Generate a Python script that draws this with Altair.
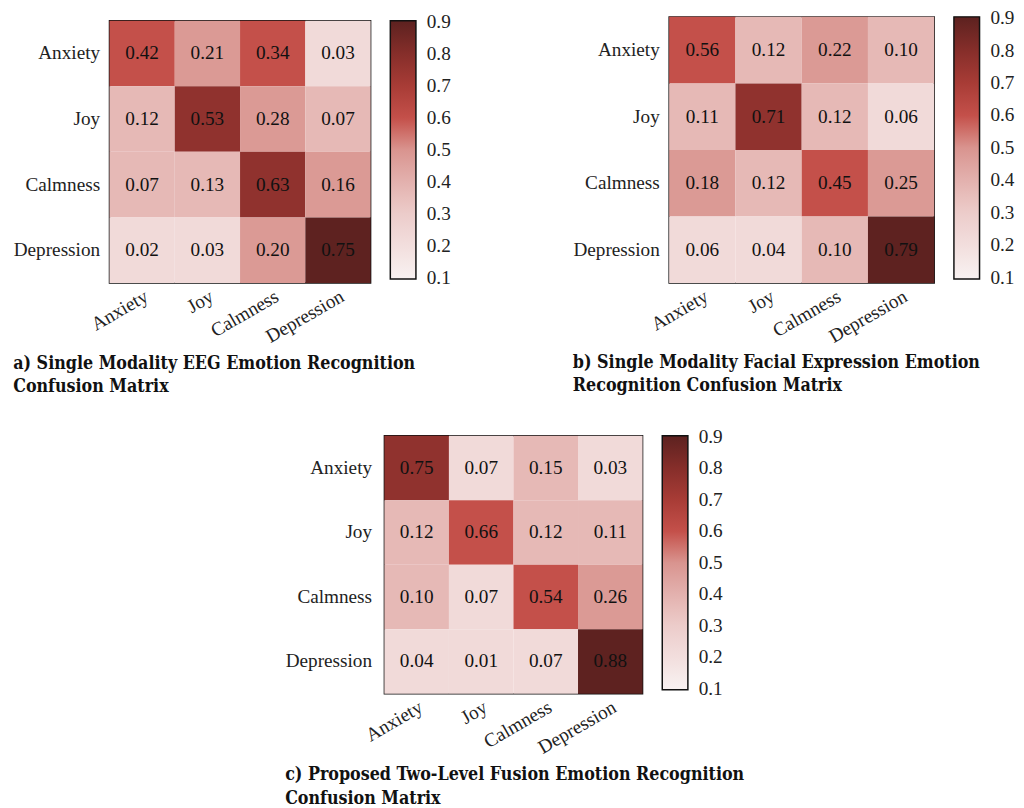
import altair as alt
import pandas as pd

labels = ["Anxiety", "Joy", "Calmness", "Depression"]

# Displayed cell values (rows = true class, columns = predicted class)
vals_a = [[0.42, 0.21, 0.34, 0.03],
          [0.12, 0.53, 0.28, 0.07],
          [0.07, 0.13, 0.63, 0.16],
          [0.02, 0.03, 0.20, 0.75]]
vals_b = [[0.56, 0.12, 0.22, 0.10],
          [0.11, 0.71, 0.12, 0.06],
          [0.18, 0.12, 0.45, 0.25],
          [0.06, 0.04, 0.10, 0.79]]
vals_c = [[0.75, 0.07, 0.15, 0.03],
          [0.12, 0.66, 0.12, 0.11],
          [0.10, 0.07, 0.54, 0.26],
          [0.04, 0.01, 0.07, 0.88]]

# Cell shading as read against the colour bar
shade_a = [[0.60, 0.48, 0.60, 0.22],
           [0.37, 0.77, 0.48, 0.37],
           [0.37, 0.37, 0.77, 0.48],
           [0.22, 0.22, 0.48, 0.90]]
shade_b = [[0.60, 0.37, 0.48, 0.37],
           [0.37, 0.77, 0.37, 0.22],
           [0.48, 0.37, 0.60, 0.48],
           [0.22, 0.22, 0.37, 0.90]]
shade_c = [[0.77, 0.22, 0.37, 0.22],
           [0.37, 0.60, 0.37, 0.37],
           [0.37, 0.22, 0.60, 0.48],
           [0.22, 0.22, 0.22, 0.90]]

cap_a = ["a) Single Modality EEG Emotion Recognition", "Confusion Matrix"]
cap_b = ["b) Single Modality Facial Expression Emotion", "Recognition Confusion Matrix"]
cap_c = ["c) Proposed Two-Level Fusion Emotion Recognition", "Confusion Matrix"]

cbar_ticks = [0.1, 0.2, 0.3, 0.4, 0.5, 0.6, 0.7, 0.8, 0.9]
cmap_dom = [0.096, 0.1, 0.2, 0.3, 0.4, 0.5, 0.6, 0.7, 0.8, 0.9, 0.904]
cmap_rng = ["#f8f1f1", "#f8f1f1", "#f2dedd", "#ecccca", "#e3b1ae", "#d9948f",
            "#c4504a", "#a83c36", "#862e2a", "#5e2220", "#5e2220"]

SERIF = "Liberation Serif"
CAPF = "DejaVu Serif Condensed"
FS = 19.5


def panel(vals, shade, caption, w, h, cap_off, ypad):
    rows = []
    for i, t in enumerate(labels):
        for j, p in enumerate(labels):
            rows.append({"true": t, "pred": p, "v": vals[i][j], "s": shade[i][j]})
    df = pd.DataFrame(rows)
    base = alt.Chart(df).encode(
        x=alt.X("pred:N", sort=labels, title=None,
                axis=alt.Axis(labelAngle=330, labelAlign="right", labelBaseline="top",
                              labelPadding=4, ticks=False, domain=False,
                              labelFont=SERIF, labelFontSize=FS, labelColor="#222")),
        y=alt.Y("true:N", sort=labels, title=None,
                axis=alt.Axis(ticks=False, domain=False, labelPadding=ypad,
                              labelFont=SERIF, labelFontSize=FS, labelColor="#222")),
    )
    rect = base.mark_rect().encode(
        color=alt.Color("s:Q", scale=alt.Scale(domain=cmap_dom, range=cmap_rng, interpolate="rgb"),
                        legend=alt.Legend(title=None, values=cbar_ticks, format=".1f",
                                          gradientLength=h - 4, gradientThickness=26,
                                          gradientStrokeColor="#111", gradientStrokeWidth=1.5,
                                          labelFont=SERIF, labelFontSize=FS, labelColor="#222",
                                          labelOffset=11, labelOverlap=False, offset=20,
                                          direction="vertical", orient="right"))
    )
    txt = base.mark_text(font=SERIF, fontSize=FS, color="#111").encode(
        text=alt.Text("v:Q", format=".2f")
    )
    return alt.layer(rect, txt).properties(
        width=w, height=h,
        title=alt.TitleParams(text=caption, orient="bottom", anchor="start", frame="bounds",
                              font=CAPF, fontSize=18, fontWeight="bold", color="#111",
                              offset=cap_off, lineHeight=24),
    ).resolve_scale(color="independent")


def spacer(w, h):
    return alt.Chart(pd.DataFrame({"k": [0]})).mark_point(opacity=0, size=1).encode(
        x=alt.X("k:Q", axis=None), y=alt.Y("k:Q", axis=None)
    ).properties(width=w, height=h, view=alt.ViewBackground(strokeOpacity=0))


pa = panel(vals_a, shade_a, cap_a, 265, 266, 9, 10)
pb = panel(vals_b, shade_b, cap_b, 269, 270, 8, 10)
pc = panel(vals_c, shade_c, cap_c, 262, 262, 10, 13)

col_a = alt.vconcat(spacer(1, 1), pa, spacing=2).resolve_scale(color="independent").resolve_legend(color="independent")
top = alt.hconcat(col_a, pb, spacing=121).resolve_scale(color="independent").resolve_legend(color="independent")
bottom = alt.hconcat(spacer(177, 1), pc, spacing=0).resolve_scale(color="independent").resolve_legend(color="independent")
chart = alt.vconcat(top, bottom, spacing=38).resolve_scale(
    color="independent").resolve_legend(color="independent").properties(
    padding={"left": 4, "top": 2, "right": 0, "bottom": 0}
).configure_view(stroke="#111", strokeWidth=1.5)

chart.save("out.html", embed_options={"renderer": "svg", "actions": False})
